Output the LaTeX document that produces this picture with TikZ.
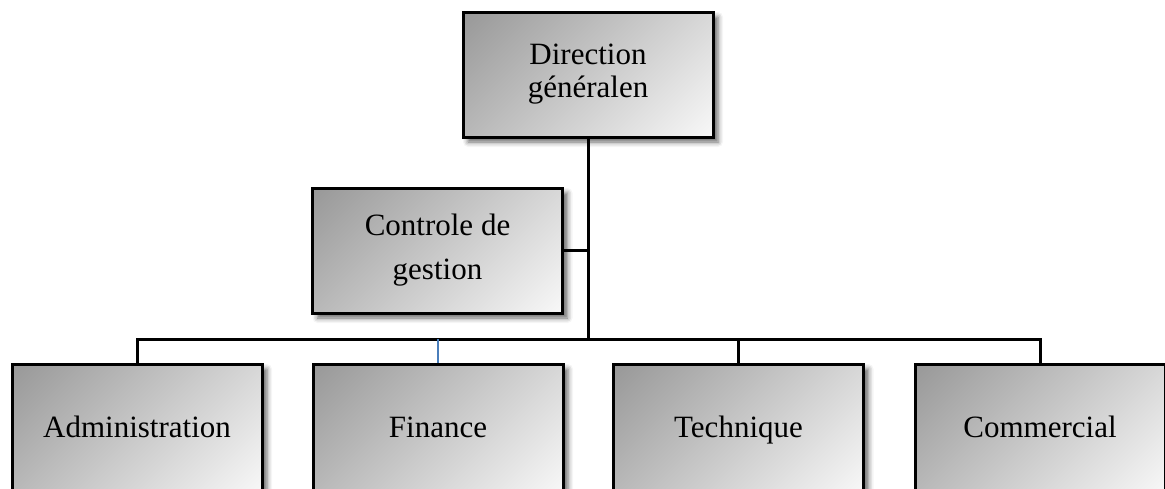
\documentclass[tikz,border=0pt]{standalone}
\usepackage{fontspec}
\setmainfont{Liberation Serif}
\usetikzlibrary{shadows.blur}
\definecolor{boxdark}{HTML}{989898}
\definecolor{boxlight}{HTML}{F8F8F8}
\definecolor{linkblue}{HTML}{4A7EBB}
% diagonal fill: dark in the top-left corner, light in the bottom-right corner
\pgfdeclareverticalshading{diagfade}{100bp}{color(0bp)=(boxlight); color(14.64bp)=(boxlight); color(85.36bp)=(boxdark); color(100bp)=(boxdark)}
\begin{document}
\begin{tikzpicture}[x=1pt,y=-1pt,
  unit/.style={draw=black, line width=3pt, minimum width=250pt, minimum height=125pt,
    inner sep=0pt, align=center, font=\fontsize{31}{33}\selectfont,
    shade, shading=diagfade, shading angle=45,
    blur shadow={shadow xshift=5pt, shadow yshift=-5pt, shadow blur radius=5pt, shadow opacity=60}},
  dept/.style={unit, minimum height=130pt, text height=16pt, text depth=0pt},
  link/.style={line width=3pt, black},
  bluelink/.style={line width=2.2pt, linkblue}]
\useasboundingbox (0,0) rectangle (1165,488);

% boxes
\node[unit] (dg) at (588,74.5) {Direction\\généralen};
\node[unit, font=\fontsize{31}{44}\selectfont] (cg) at (437.5,250.5) {Controle de\\gestion};
\node[dept] (adm) at (137,429) {Administration};
\node[dept] (fin) at (438,429) {Finance};
\node[dept] (tec) at (738.5,429) {Technique};
\node[dept] (com) at (1040,429) {Commercial};

% connectors
\coordinate (bar) at (588,339);
\draw[link] (dg.south) -- (dg.south |- bar);
\draw[link] (cg.east) -- (cg.east -| dg.south);
\draw[link] (adm.north) |- (com.north |- bar) -- (com.north);
\draw[link] (tec.north) -- (tec.north |- bar);
\draw[bluelink] (fin.north) -- (fin.north |- bar);
\end{tikzpicture}
\end{document}
